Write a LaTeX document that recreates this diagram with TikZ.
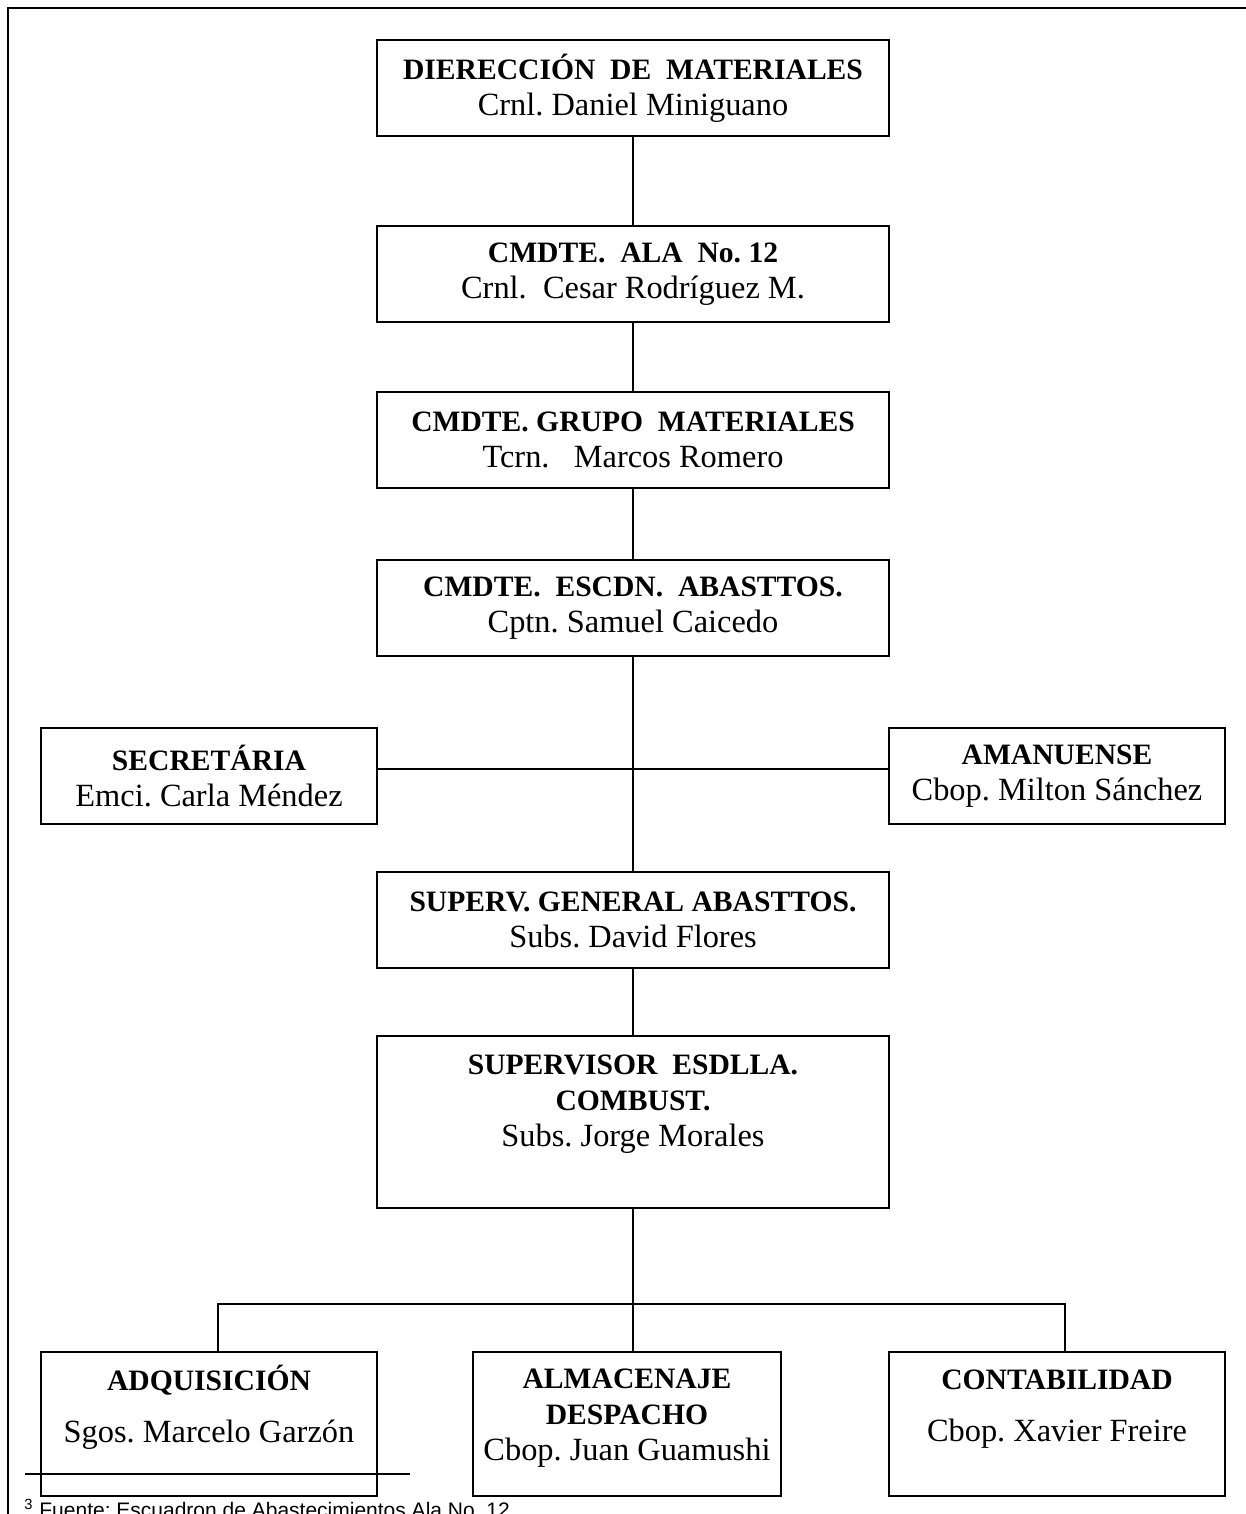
\documentclass[tikz,border=0pt]{standalone}
\usepackage{fontspec}
\setmainfont{Liberation Serif}
\newfontfamily\fuentefont{Liberation Sans}
\usepackage{tikz}
\usetikzlibrary{positioning}
\frenchspacing
\newcommand\cargo[1]{{\fontsize{14.8}{18}\selectfont\bfseries #1}}

\begin{document}
\begin{tikzpicture}[x=0.5pt, y=-0.5pt,
    puesto/.style={draw, line width=1pt, inner sep=0pt, align=center,
        minimum width=256pt, minimum height=48pt,
        font=\fontsize{16.2}{18}\selectfont},
    lado/.style={puesto, minimum width=168pt},
    enlace/.style={line width=0.8pt}]
    \useasboundingbox (0,0) rectangle (1246,1514);
    % marco
    \draw[line width=1pt] (8,1514) -- (8,8) -- (1246,8);

    % cadena de mando
    \node[puesto] (dir) at (633,88) {\cargo{DIERECCIÓN~ DE~ MATERIALES}\\ Crnl. Daniel Miniguano};
    \node[puesto] (cmdte) at (633,274) {\cargo{CMDTE.~ ALA~ No. 12}\\ Crnl.~ Cesar Rodríguez M.};
    \node[puesto] (grupo) at (633,440) {\cargo{CMDTE. GRUPO~ MATERIALES}\\ Tcrn.~~ Marcos Romero};
    \node[puesto] (escdn) at (633,608) {\cargo{CMDTE.~ ESCDN.~ ABASTTOS.}\\ Cptn. Samuel Caicedo};
    \node[lado] (secre) at (209,776) {\cargo{SECRETÁRIA}\\ Emci. Carla Méndez};
    \node[lado] (amanu) at (1057,776) {\cargo{AMANUENSE}\\ Cbop. Milton Sánchez};
    \node[puesto] (superv) at (633,920) {\cargo{SUPERV. GENERAL ABASTTOS.}\\ Subs. David Flores};
    \node[puesto, minimum height=86pt] (combust) at (633,1122)
        {\cargo{SUPERVISOR~ ESDLLA.}\\ \cargo{COMBUST.}\\ Subs. Jorge Morales\\[3.5pt]\mbox{}};

    % secciones
    \node[lado, minimum height=72pt] (adqui) at (209,1424) {\cargo{ADQUISICIÓN}\\[8pt] Sgos. Marcelo Garzón\\[2pt]\mbox{}};
    \node[lado, minimum width=154pt, minimum height=72pt] (almac) at (627,1424)
        {\cargo{ALMACENAJE}\\ \cargo{DESPACHO}\\ Cbop. Juan Guamushi\\[-9pt]\mbox{}};
    \node[lado, minimum height=72pt] (conta) at (1057,1424) {\cargo{CONTABILIDAD}\\[8pt] Cbop. Xavier Freire\\[0pt]\mbox{}};

    % lineas
    \draw[enlace] (dir) -- (cmdte);
    \draw[enlace] (cmdte) -- (grupo);
    \draw[enlace] (grupo) -- (escdn);
    \draw[enlace] (escdn) -- (superv);
    \draw[enlace] ([yshift=3.5pt]secre.east) -- ([yshift=3.5pt]amanu.west);
    \draw[enlace] (superv) -- (combust);
    \coordinate (bus) at (633,1304);
    \draw[enlace] (combust.south) -- (combust.south |- almac.north);
    \draw[enlace] ([xshift=4.5pt]adqui.north) |- (bus) -| ([xshift=4pt]conta.north);

    % nota al pie
    \draw[line width=0.6pt] (25,1474) -- (410,1474);
    \node[anchor=base west, inner sep=0pt, font=\fuentefont\fontsize{10.5}{12}\selectfont] (fuente) at (24,1517)
        {\textsuperscript{3} Fuente: Escuadron de Abastecimientos Ala No. 12};
\end{tikzpicture}
\end{document}
